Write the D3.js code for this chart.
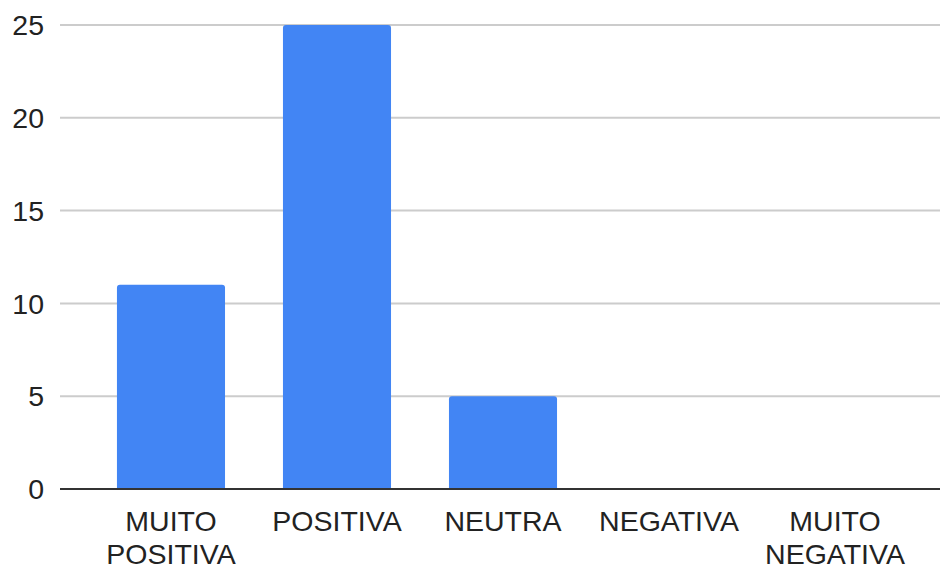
<!DOCTYPE html>
<html>
<head>
<meta charset="utf-8">
<script src="https://cdn.jsdelivr.net/npm/d3@7"></script>
<style>
  html, body { margin: 0; padding: 0; background: #fff; }
  svg { display: block; font-family: "Liberation Sans", Arial, sans-serif; }
</style>
</head>
<body>
<svg id="chart" width="940" height="567"></svg>
<script>
// Opinion categories and response counts
const categories = ["MUITO POSITIVA", "POSITIVA", "NEUTRA", "NEGATIVA", "MUITO NEGATIVA"];
const categoryLines = [["MUITO", "POSITIVA"], ["POSITIVA"], ["NEUTRA"], ["NEGATIVA"], ["MUITO", "NEGATIVA"]];
const counts = [11, 25, 5, 0, 0];
const yTicks = [0, 5, 10, 15, 20, 25];

const svg = d3.select("#chart");
const gridLeft = 60, gridRight = 940;
const yTop = 25, yBottom = 489;
const fontSize = 28.5;

const x = d3.scaleBand()
  .domain(categories)
  .range([63, 943])
  .paddingInner(0.349)
  .paddingOuter(0.325);

const y = d3.scaleLinear().domain([0, 25]).range([yBottom, yTop]);

// Horizontal gridlines
svg.append("g")
  .selectAll("line")
  .data(yTicks.filter(d => d !== 0))
  .join("line")
  .attr("x1", gridLeft).attr("x2", gridRight)
  .attr("y1", d => y(d)).attr("y2", d => y(d))
  .attr("stroke", "#cccccc")
  .attr("stroke-width", 2);

// Y tick labels
svg.append("g")
  .selectAll("text")
  .data(yTicks)
  .join("text")
  .attr("x", 44)
  .attr("y", d => y(d))
  .attr("dy", "0.36em")
  .attr("text-anchor", "end")
  .attr("font-size", fontSize)
  .attr("fill", "#222")
  .text(d => d);

// Bars with slightly rounded top corners
const r = 3;
svg.append("g")
  .selectAll("path")
  .data(categories.map((c, i) => ({ c, v: counts[i] })).filter(d => d.v > 0))
  .join("path")
  .attr("fill", "#4285f4")
  .attr("d", d => {
    const x0 = x(d.c), w = x.bandwidth(), y0 = y(d.v), y1 = y(0);
    return `M${x0},${y1} V${y0 + r} Q${x0},${y0} ${x0 + r},${y0} H${x0 + w - r} Q${x0 + w},${y0} ${x0 + w},${y0 + r} V${y1} Z`;
  });

// Baseline
svg.append("line")
  .attr("x1", gridLeft).attr("x2", gridRight)
  .attr("y1", y(0)).attr("y2", y(0))
  .attr("stroke", "#333")
  .attr("stroke-width", 2);

// Category labels (wrapped)
const labels = svg.append("g")
  .selectAll("text")
  .data(categories)
  .join("text")
  .attr("text-anchor", "middle")
  .attr("font-size", fontSize)
  .attr("fill", "#222")
  .attr("x", d => x(d) + x.bandwidth() / 2)
  .attr("y", 531);

labels.each(function (d, i) {
  const t = d3.select(this);
  categoryLines[i].forEach((line, j) => {
    t.append("tspan")
      .attr("x", x(d) + x.bandwidth() / 2)
      .attr("dy", j === 0 ? 0 : 33)
      .text(line);
  });
});
</script>
</body>
</html>
